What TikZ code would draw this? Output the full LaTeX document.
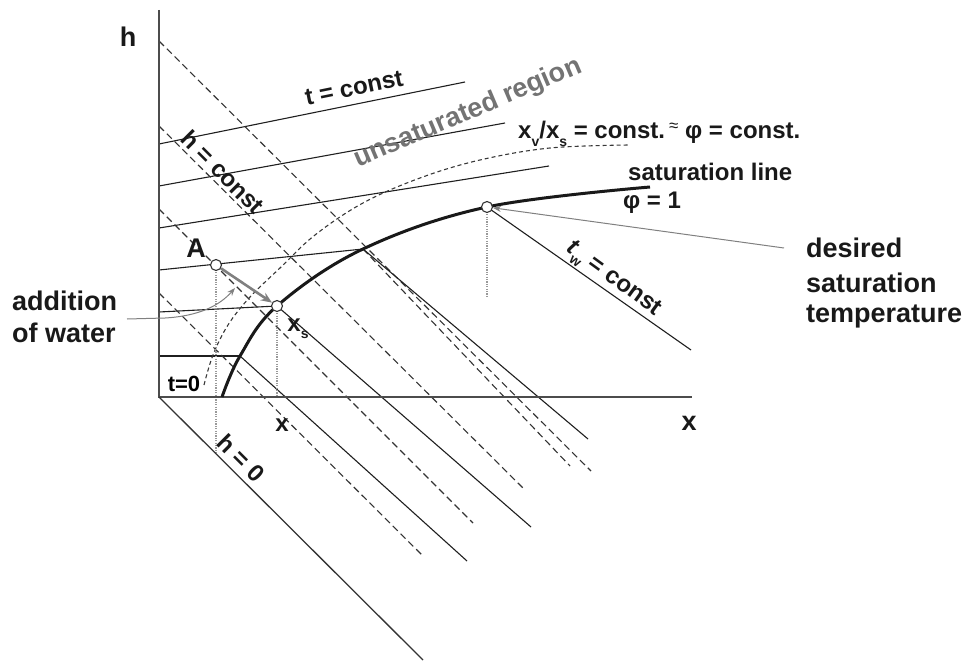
\documentclass[tikz,border=0pt]{standalone}
\usepackage{fontspec}
\setmainfont{Liberation Sans}
\usetikzlibrary{arrows.meta}
\begin{document}
\begin{tikzpicture}[x=1pt,y=-1pt,
  lbl/.style={font=\fontsize{24}{28}\selectfont\bfseries, inner sep=0pt, text=black!90},
  biglbl/.style={font=\fontsize{27}{32}\selectfont\bfseries, inner sep=0pt, text=black!90},
  axisline/.style={line width=1.8pt, draw=black!70},
  tline/.style={line width=1.1pt, draw=black!88},
  hline/.style={line width=1.1pt, draw=black!80, dash pattern=on 7pt off 4pt},
  satline/.style={line width=3pt, draw=black!90},
  dotcurve/.style={line width=1.1pt, draw=black!78, dash pattern=on 4pt off 3pt},
  vdot/.style={line width=1.2pt, draw=black!40, dash pattern=on 1.2pt off 1.2pt},
  statept/.style={circle, draw=black!80, fill=white, line width=1.1pt, minimum size=11pt, inner sep=0pt},
  pointer/.style={line width=1pt, draw=black!50},
]
\useasboundingbox (0,0) rectangle (969,663);

% key coordinates
\coordinate (O) at (159,397);
\coordinate (hTop) at (159,10);
\coordinate (xEnd) at (692,397);
\coordinate (hzEnd) at (423,660);
\coordinate (sA) at (222,397);
\coordinate (sB) at (240,356);
\coordinate (sC) at (277,306);
\coordinate (sD) at (363,249);
\coordinate (sE) at (487,207);
\coordinate (sF) at (650,187);
\coordinate (pA) at (216,265);

% isotherms t = const
\draw[tline] (159,144) coordinate (t1a) -- (465,82) coordinate (t1b);
\draw[tline] (159,186) coordinate (t2a) -- (505,123) coordinate (t2b);
\draw[tline] (159,228) coordinate (t3a) -- (549,166) coordinate (t3b);
\draw[tline] (159,270) coordinate (t4a) -- (sD);
\draw[tline] (159,312) coordinate (t5a) -- (sC);
\draw[tline] (159,356) coordinate (t6a) -- (sB);

% isenthalps h = const
\draw[hline] (159,41) coordinate (d1a) -- (591,471) coordinate (d1b);
\draw[hline] (159,126) coordinate (d2a) -- (524,489) coordinate (d2b);
\draw[hline] (159,209) coordinate (d3a) -- (473,523) coordinate (d3b);
\draw[hline] (159,293) coordinate (d4a) -- (422,555) coordinate (d4b);
\draw[hline] (sD) -- (570,466) coordinate (d5b);

% wet-bulb lines
\draw[tline] (sB) -- (467,561) coordinate (w0b);
\draw[tline] (sC) -- (531,527) coordinate (w1b);
\draw[tline] (sD) -- (588,439) coordinate (w2b);
\draw[tline] (sE) -- (691,350) coordinate (w3b);

% x_v/x_s = const curve
\draw[dotcurve] plot[smooth, tension=0.6] coordinates {(204,385) (213,355) (228,325) (250,297) (280,268) (315,235) (363,203) (420,178) (480,160) (550,148) (630,145)};

% vertical dotted lines
\draw[vdot] (pA) -- (216,454);
\draw[vdot] (sC) -- (277,397);
\draw[vdot] (sE) -- (487,297);

% axes
\draw[axisline] (hTop) -- (O) -- (xEnd);
\draw[line width=1.3pt, draw=black!80] (O) -- (hzEnd);

% saturation line
\draw[satline] plot[smooth, tension=0.6] coordinates {(sA) (sB) (sC) (sD) (sE) (sF)};

% state points
\node[statept] (A) at (pA) {};
\node[statept] (xs) at (sC) {};
\node[statept] (ws) at (sE) {};

% addition of water arrow
\draw[line width=2.6pt, draw=black!50, -{Stealth[length=11pt,width=9pt]}] (A) -- (xs);
\draw[pointer, -{Stealth[length=8pt,width=6pt]}] (127,319) coordinate (pw) -- (165,318) .. controls (200,316) and (220,305) .. (235,288);
\draw[pointer, -{Stealth[length=8pt,width=6pt]}] (784,248) coordinate (pd) -- (ws);

% labels
\node[biglbl] (lh) at (128,37) {h};
\node[biglbl] (lx) at (689,423) {x};
\node[biglbl] (lA) at (196,248) {A};
\node[font=\fontsize{22}{26}\selectfont\bfseries, inner sep=0pt] (lt0) at (184,384) {t=0};
\node[lbl] (lxx) at (282,425) {x};
\node[lbl] (lxs) at (298,329) {x\raisebox{-0.3em}{\fontsize{14}{14}\selectfont s}};
\node[lbl, rotate=-45] (lh0) at (241,458) {h = 0};
\node[lbl, rotate=-45] (lhc) at (223,172) {h = const};
\node[lbl, rotate=11.5] (ltc) at (354,88) {t = const};
\node[font=\fontsize{27}{32}\selectfont\bfseries, text=black!55, rotate=23, inner sep=0pt] (lunsat) at (468,113) {unsaturated region};
\node[lbl, anchor=base west] (lphi) at (518,139) {x\raisebox{-0.3em}{\fontsize{14}{14}\selectfont v}/x\raisebox{-0.3em}{\fontsize{14}{14}\selectfont s} = const.\,\raisebox{0.3em}{\fontsize{17}{17}\selectfont\mdseries ≈} φ = const.};
\node[lbl, anchor=base west] (lsat) at (628,181) {saturation line};
\node[lbl] (lphi1) at (652,203) {φ = 1};
\node[lbl, rotate=-36] (ltw) at (613,280) {\textit{t}\raisebox{-0.3em}{\fontsize{14}{14}\selectfont w} = const};
\node[biglbl, anchor=base west] (ld1) at (806,258) {desired};
\node[biglbl, anchor=base west] (ld2) at (806,292) {saturation};
\node[biglbl, anchor=base west] (ld3) at (806,322) {temperature};
\node[biglbl, anchor=base west] (la1) at (12,310) {addition};
\node[biglbl, anchor=base west] (la2) at (12,342) {of water};
\end{tikzpicture}
\end{document}
